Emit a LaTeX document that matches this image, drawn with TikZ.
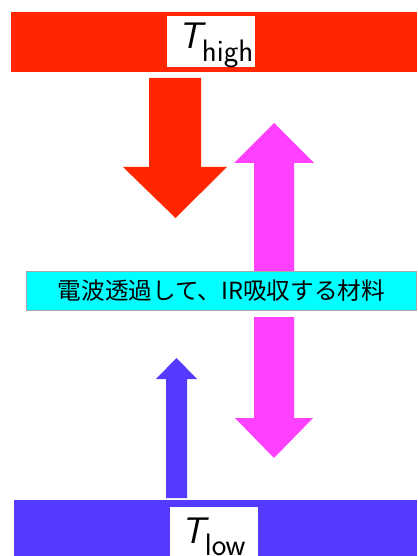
\documentclass[tikz,border=0pt]{standalone}
\usepackage{fontspec}
\newfontfamily\jpfont{Noto Sans CJK JP}
\definecolor{hotred}{RGB}{255,38,0}
\definecolor{magent}{RGB}{255,64,255}
\definecolor{violetblue}{RGB}{85,58,255}
\definecolor{cyanbox}{RGB}{0,255,255}
\tikzset{
  bar/.style={fill=#1, draw=none},
  labelbox/.style={fill=white, draw=none},
  bigarrow/.style={fill=#1, draw=none},
  tlabel/.style={inner sep=0pt, font=\sffamily\fontsize{37}{37}\selectfont},
}
\begin{document}
\begin{tikzpicture}[x=1pt,y=-1pt]
\useasboundingbox (0,0) rectangle (417,556);
% top hot bar
\fill[hotred] (11,12) rectangle (417,72);
\fill[white] (167,16) rectangle (255,67);
\node[tlabel, anchor=base west] (thigh) at (178,49) {\itshape T\raisebox{-13pt}{\upshape\fontsize{31}{31}\selectfont high}};
% bottom cold bar
\fill[violetblue] (14,500) rectangle (417,556);
\fill[white] (170,507) rectangle (258,556);
\node[tlabel, anchor=base west] (tlow) at (181,543) {\itshape T\raisebox{-12pt}{\upshape\fontsize{31}{31}\selectfont low}};
% red down arrow
\fill[hotred] (149,78) -- (201,78) -- (201,167) -- (227,167) -- (175.5,218) -- (123,167) -- (149,167) -- cycle;
% magenta up arrow (upper)
\fill[magent] (254,271) -- (254,163) -- (234,163) -- (274,123) -- (314,163) -- (294,163) -- (294,271) -- cycle;
% magenta down arrow (lower)
\fill[magent] (254,317) -- (294,317) -- (294,418) -- (313,418) -- (274,458) -- (235,418) -- (254,418) -- cycle;
% blue up arrow
\fill[violetblue] (166,498) -- (166,379) -- (156,379) -- (176.5,358) -- (197,379) -- (187,379) -- (187,498) -- cycle;
% material box
\node[draw=gray!70, fill=cyanbox, line width=0.8pt, minimum width=390pt, minimum height=39pt, inner sep=0pt, anchor=north west,
  font=\jpfont\fontsize{23.6}{23.6}\selectfont] (mat) at (26,271) {電波透過して、IR吸収する材料};
\end{tikzpicture}
\end{document}
